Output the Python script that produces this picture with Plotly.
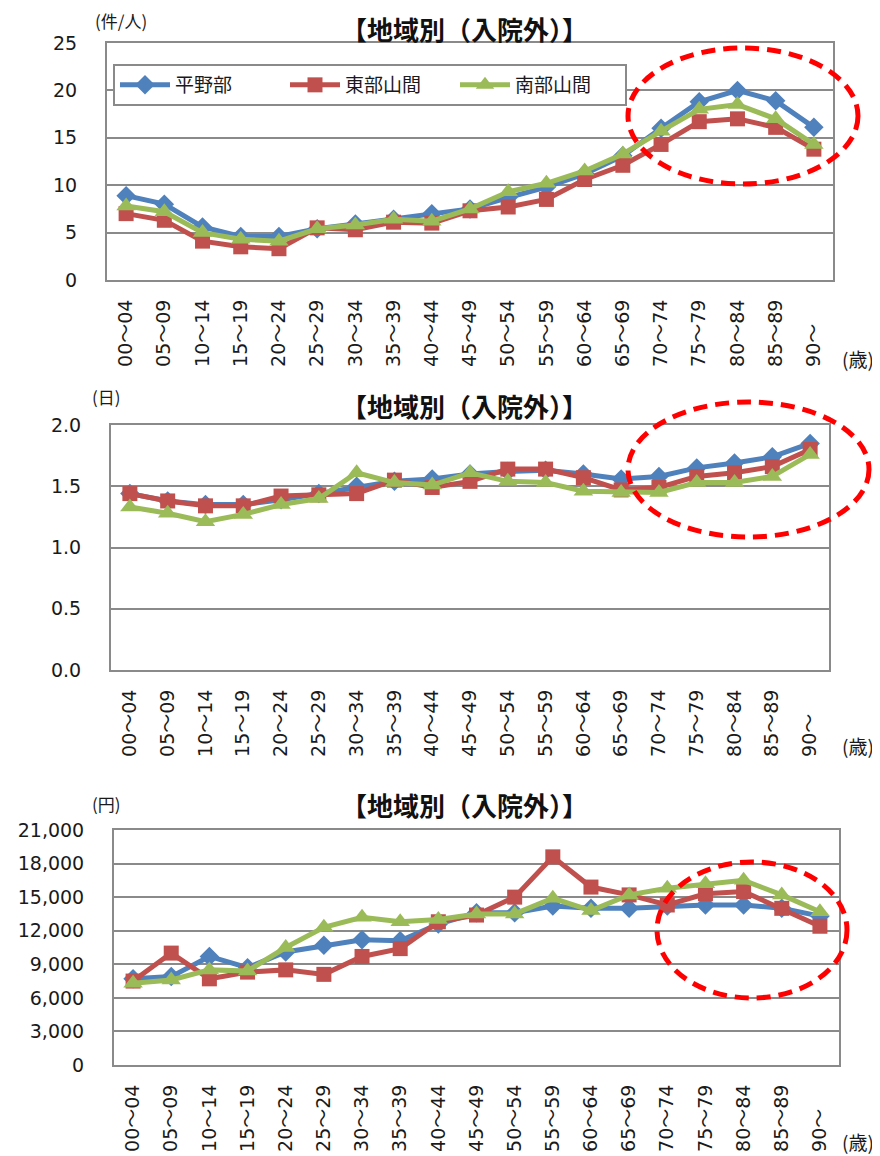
import plotly.graph_objects as go

# ---------------- data ----------------
categories = ["00～04", "05～09", "10～14", "15～19", "20～24", "25～29", "30～34",
              "35～39", "40～44", "45～49", "50～54", "55～59", "60～64", "65～69",
              "70～74", "75～79", "80～84", "85～89", "90～"]
tick_text = categories[:-1] + ["90～\u00a0\u00a0\u00a0\u00a0"]

series_names = ["平野部", "東部山間", "南部山間"]

# chart 1: 件/人
count_heiya = [8.9, 8.0, 5.6, 4.6, 4.6, 5.4, 5.9, 6.4, 7.0, 7.5, 8.7, 9.8, 11.2, 13.1, 16.0, 18.8, 20.0, 18.9, 16.1]
count_tobu = [7.0, 6.3, 4.1, 3.5, 3.3, 5.5, 5.3, 6.1, 6.0, 7.3, 7.7, 8.5, 10.6, 12.1, 14.3, 16.7, 17.0, 16.1, 13.8]
count_nanbu = [7.8, 7.2, 5.0, 4.3, 4.1, 5.4, 5.8, 6.4, 6.2, 7.5, 9.3, 10.2, 11.5, 13.3, 15.7, 18.0, 18.5, 17.0, 14.3]

# chart 2: 日
days_heiya = [1.44, 1.38, 1.35, 1.35, 1.39, 1.44, 1.50, 1.54, 1.56, 1.60, 1.62, 1.63, 1.60, 1.56, 1.58, 1.65, 1.69, 1.74, 1.85]
days_tobu = [1.44, 1.38, 1.34, 1.34, 1.42, 1.43, 1.44, 1.55, 1.49, 1.54, 1.64, 1.64, 1.57, 1.47, 1.49, 1.58, 1.61, 1.66, 1.80]
days_nanbu = [1.33, 1.28, 1.21, 1.27, 1.35, 1.40, 1.61, 1.53, 1.51, 1.61, 1.54, 1.53, 1.46, 1.45, 1.45, 1.53, 1.53, 1.58, 1.76]

# chart 3: 円
yen_heiya = [7700, 7900, 9700, 8700, 10100, 10700, 11200, 11100, 12600, 13600, 13600, 14200, 14000, 14000, 14200, 14300, 14300, 14000, 13300]
yen_tobu = [7500, 10000, 7700, 8300, 8500, 8100, 9700, 10400, 12800, 13400, 15000, 18600, 15900, 15200, 14300, 15300, 15500, 14000, 12400]
yen_nanbu = [7300, 7600, 8500, 8400, 10500, 12300, 13200, 12800, 13000, 13500, 13500, 14900, 13800, 15200, 15800, 16200, 16500, 15200, 13700]

title_text = "【地域別（入院外）】"
units = ["(件/人)", "(日)", "(円)"]
age_unit = "(歳)"

# ---------------- styling ----------------
OFF = 8  # page body margin
W, H = 880 - OFF, 1156 - OFF
colors = ["#4F81BD", "#C0504D", "#9BBB59"]
symbols = ["diamond", "square", "triangle-up"]
msizes = [15, 15, 17]
GRID = "#8a8a8a"
TXT = "#1a1a1a"
FONT = "DejaVu Sans, Noto Sans CJK JP, sans-serif"
JFONT = "Noto Sans CJK JP, sans-serif"


def px_x(p):
    return (p - OFF) / W


def px_y(p):
    return 1 - (p - OFF) / H


charts = [
    dict(data=[count_heiya, count_tobu, count_nanbu], box=(107, 833, 43, 280),
         rng=[0, 25], dtick=5, fmt="d", title_top=8.5, unit_x=93, unit_y=21, age_y=358,
         ell=(628, 858, 48, 184)),
    dict(data=[days_heiya, days_tobu, days_nanbu], box=(111, 829, 425, 670),
         rng=[0, 2], dtick=0.5, fmt=".1f", title_top=385, unit_x=90, unit_y=396, age_y=745,
         ell=(628, 869, 402, 537)),
    dict(data=[yen_heiya, yen_tobu, yen_nanbu], box=(114, 839, 830, 1065),
         rng=[0, 21000], dtick=3000, fmt=",d", title_top=784, unit_x=90, unit_y=803, age_y=1141,
         ell=(657, 847, 862, 998)),
]

fig = go.Figure()
annotations = []
shapes = []
layout_axes = {}

for ci, ch in enumerate(charts):
    suffix = "" if ci == 0 else str(ci + 1)
    for si in range(3):
        fig.add_trace(go.Scatter(
            x=categories, y=ch["data"][si], name=series_names[si],
            mode="lines+markers",
            line=dict(color=colors[si], width=5),
            marker=dict(symbol=symbols[si], size=msizes[si], color=colors[si]),
            showlegend=(ci == 0),
            xaxis="x" + suffix, yaxis="y" + suffix,
        ))
    x0, x1, y0, y1 = ch["box"]
    layout_axes["xaxis" + suffix] = dict(
        domain=[px_x(x0), px_x(x1)], anchor="y" + suffix,
        type="category", range=[-0.5, 18.5],
        tickmode="array", tickvals=categories, ticktext=tick_text,
        tickangle=-90, tickfont=dict(family=FONT, size=19, color=TXT),
        showline=True, mirror=True, linecolor=GRID, linewidth=2,
        showgrid=False, ticks="", ticklabelstandoff=10, fixedrange=True,
        automargin=False,
    )
    layout_axes["yaxis" + suffix] = dict(
        domain=[px_y(y1), px_y(y0)], anchor="x" + suffix,
        range=ch["rng"], dtick=ch["dtick"], tick0=0, tickformat=ch["fmt"],
        tickfont=dict(family=FONT, size=19, color=TXT),
        showline=True, mirror=True, linecolor=GRID, linewidth=2,
        showgrid=True, gridcolor=GRID, gridwidth=1.5, zeroline=False,
        ticks="", ticklabelstandoff=24, fixedrange=True, automargin=False,
    )
    annotations.append(dict(
        text="<b>" + title_text + "</b>", x=px_x(464), y=px_y(ch["title_top"]),
        xref="paper", yref="paper", xanchor="center", yanchor="top",
        showarrow=False, font=dict(family=JFONT, size=26, color="#111111"),
    ))
    annotations.append(dict(
        text=units[ci], x=px_x(ch["unit_x"]), y=px_y(ch["unit_y"]),
        xref="paper", yref="paper", xanchor="left", yanchor="middle",
        showarrow=False, font=dict(family=JFONT, size=17, color=TXT),
    ))
    annotations.append(dict(
        text=age_unit, x=px_x(876), y=px_y(ch["age_y"]),
        xref="paper", yref="paper", xanchor="right", yanchor="middle",
        showarrow=False, font=dict(family=JFONT, size=19, color=TXT),
    ))
    ex0, ex1, ey0, ey1 = ch["ell"]
    shapes.append(dict(
        type="circle", xref="paper", yref="paper",
        x0=px_x(ex0), x1=px_x(ex1), y0=px_y(ey1), y1=px_y(ey0),
        line=dict(color="#FF0000", width=5, dash="14px,8px"),
        fillcolor="rgba(0,0,0,0)",
    ))

fig.update_layout(
    width=W, height=H,
    margin=dict(l=0, r=0, t=0, b=0, autoexpand=False),
    paper_bgcolor="white", plot_bgcolor="white",
    showlegend=True,
    legend=dict(
        x=px_x(113), y=px_y(64), xanchor="left", yanchor="top",
        orientation="h", bgcolor="white", bordercolor=GRID, borderwidth=2,
        font=dict(family=JFONT, size=19, color=TXT),
        entrywidth=105, itemwidth=50,
    ),
    annotations=annotations,
    shapes=shapes,
    **layout_axes,
)

fig.write_html("out.html")
